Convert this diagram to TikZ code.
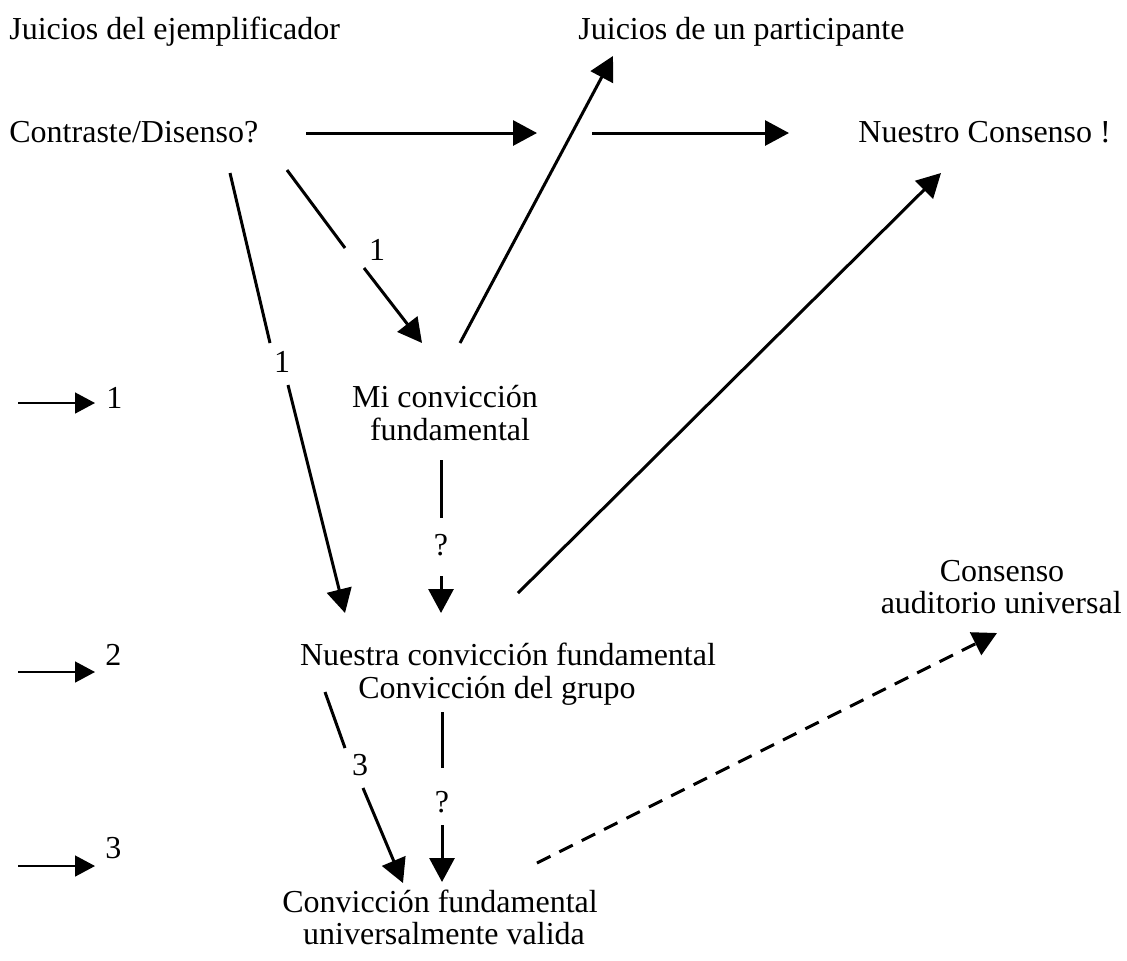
\documentclass[tikz,border=0pt]{standalone}
\usepackage{fontspec}
\setmainfont{Liberation Serif}
\usetikzlibrary{arrows.meta}
\begin{document}
\begin{tikzpicture}[x=0.5pt,y=-0.5pt,
  txt/.style={inner sep=0pt, font=\fontsize{16pt}{16.3pt}\selectfont},
  bigarrow/.style={line width=1.5pt, -{Triangle[length=12pt,width=12.5pt]}},
  smallarrow/.style={line width=0.75pt, -{Triangle[length=10pt,width=10.5pt]}},
  plainline/.style={line width=1.5pt},
  dashedarrow/.style={bigarrow, dash pattern=on 7.5pt off 5pt}]
\useasboundingbox (0,0) rectangle (1127,960);

% texts
\node[txt, anchor=base west] (j1) at (9,39) {Juicios del ejemplificador};
\node[txt, anchor=base west] (j2) at (578,39) {Juicios de un participante};
\node[txt, anchor=base west] (cd) at (9,142) {Contraste/Disenso?};
\node[txt, anchor=base west] (nc) at (858,142) {Nuestro Consenso !};
\node[txt, anchor=base] (mi1) at (445,407) {Mi convicción};
\node[txt, anchor=base] (mi2) at (450,440) {fundamental};
\node[txt, anchor=base] (co1) at (1002,581) {Consenso};
\node[txt, anchor=base east] (co2) at (1122,613) {auditorio universal};
\node[txt, anchor=base] (nu1) at (508,665) {Nuestra convicción fundamental};
\node[txt, anchor=base] (nu2) at (497,698) {Convicción del grupo};
\node[txt, anchor=base] (cf1) at (440,912) {Convicción fundamental};
\node[txt, anchor=base] (cf2) at (444,944) {universalmente valida};

% gap labels
\node[txt] (l1a) at (377,250) {1};
\node[txt] (l1b) at (282,362) {1};
\node[txt] (q1) at (441,545) {?};
\node[txt] (l3) at (360,765) {3};
\node[txt] (q2) at (442,802) {?};

% left legend
\node[txt, anchor=base west] (r1) at (106,408) {1};
\node[txt, anchor=base west] (r2) at (105,665) {2};
\node[txt, anchor=base west] (r3) at (105,858) {3};
\coordinate (r1s) at (18,403); \coordinate (r1e) at (95,403);
\coordinate (r2s) at (18,672); \coordinate (r2e) at (95,672);
\coordinate (r3s) at (18,866); \coordinate (r3e) at (95,866);
\draw[smallarrow] (r1s) -- (r1e);
\draw[smallarrow] (r2s) -- (r2e);
\draw[smallarrow] (r3s) -- (r3e);

% top horizontal arrows
\coordinate (a1s) at (306,133); \coordinate (a1e) at (537,133);
\coordinate (a2s) at (592,133); \coordinate (a2e) at (789,133);
\draw[bigarrow] (a1s) -- (a1e);
\draw[bigarrow] (a2s) -- (a2e);

% Mi conviccion -> participante
\coordinate (m1s) at (460,343); \coordinate (m1e) at (613,56);
\draw[bigarrow] (m1s) -- (m1e);

% Nuestra conviccion -> Nuestro consenso
\coordinate (n1s) at (518,593); \coordinate (n1e) at (941,173);
\draw[bigarrow] (n1s) -- (n1e);

% short "1" arrow
\coordinate (s1a) at (287,170); \coordinate (s1b) at (345,248);
\coordinate (s1c) at (364,268); \coordinate (s1d) at (422,343);
\draw[plainline] (s1a) -- (s1b);
\draw[bigarrow] (s1c) -- (s1d);

% long "1" arrow
\coordinate (t1a) at (230,173); \coordinate (t1b) at (270,343);
\coordinate (t1c) at (288,385); \coordinate (t1d) at (345,613);
\draw[plainline] (t1a) -- (t1b);
\draw[bigarrow] (t1c) -- (t1d);

% "?" from Mi conviccion
\coordinate (v1a) at (441,460); \coordinate (v1b) at (441,518);
\coordinate (v1c) at (441,576); \coordinate (v1d) at (441,613);
\draw[plainline] (v1a) -- (v1b);
\draw[bigarrow] (v1c) -- (v1d);

% "3" arrow
\coordinate (w3a) at (325,692); \coordinate (w3b) at (345,748);
\coordinate (w3c) at (363,788); \coordinate (w3d) at (403,883);
\draw[plainline] (w3a) -- (w3b);
\draw[bigarrow] (w3c) -- (w3d);

% "?" from Nuestra conviccion
\coordinate (v2a) at (442,712); \coordinate (v2b) at (442,768);
\coordinate (v2c) at (442,825); \coordinate (v2d) at (442,882);
\draw[plainline] (v2a) -- (v2b);
\draw[bigarrow] (v2c) -- (v2d);

% dashed to Consenso auditorio universal
\coordinate (d1s) at (537,863); \coordinate (d1e) at (997,633);
\draw[dashedarrow] (d1s) -- (d1e);
\end{tikzpicture}
\end{document}
